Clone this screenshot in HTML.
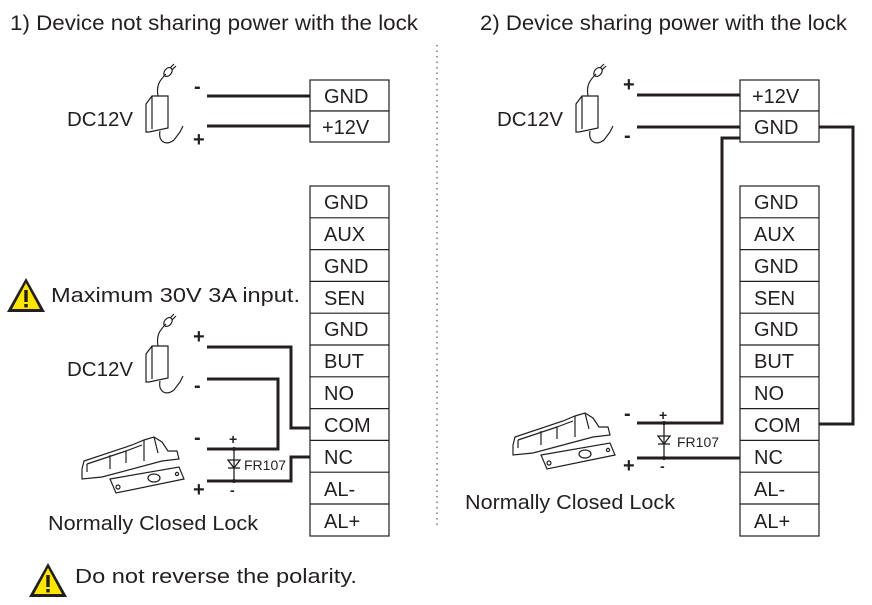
<!DOCTYPE html>
<html><head><meta charset="utf-8"><style>
body{margin:0;background:#fff;width:872px;height:605px;overflow:hidden}
svg{display:block}
text{font-family:"Liberation Sans","DejaVu Sans",sans-serif;fill:#231f20}
.t{font-size:21px}
.b{font-size:20px}
.w{stroke:#231f20;stroke-width:3;fill:none}
.bx{fill:#fff;stroke:#231f20;stroke-width:1.2}
.th{stroke:#231f20;stroke-width:1.2;fill:none}
</style></head><body>
<svg width="872" height="605" viewBox="0 0 872 605">
<defs>
<g id="ad">
 <path class="th" d="M0 0 L0 -28 L6 -36 L22 -36 L22 -4 L3 0 Z M6 -36 L6 -3 M0 0 L3 0"/>
 <path class="th" d="M12 -36 C10 -47 14 -52 20 -58"/>
 <ellipse cx="22" cy="-60" rx="3.5" ry="5" transform="rotate(40 22 -60)" class="th"/>
 <path class="th" d="M24 -64 l4 -4 M26 -62 l4 -4"/>
 <path class="th" d="M14 -1 C12 10 20 14 28 8 L34 0 M34 0 l3 -6"/>
</g>
<g id="lk">
 <path class="th" d="M0 32 L2 24 L50 8 L62 3 L72 0 L80 5 L86 14 L95 14 L97 22 L80 24 L20 40 L0 42 Z"/>
 <path class="th" d="M5 27 L5 35 M5 27 L44 14 L44 26 M28 18 L28 32 M44 14 L60 8 M62 3 L62 24 M72 0 L76 16"/>
 <path class="th" d="M28 42 L97 30 L102 42 L34 56 Z"/>
 <circle cx="36" cy="50" r="2" class="th"/>
 <ellipse cx="72" cy="41" rx="6" ry="4" class="th"/>
 <circle cx="95" cy="37" r="1.6" class="th"/>
</g>
<g id="warn">
 <path d="M19 0 L38 34 L0 34 Z" fill="#231f20"/>
 <path d="M19 5 L33 31 L5 31 Z" fill="#ffe600"/>
 <rect x="17.3" y="12" width="3.4" height="12" fill="#231f20"/>
 <rect x="17.3" y="26" width="3.4" height="3.4" fill="#231f20"/>
</g>
</defs>

<text x="10" y="30" class="t" textLength="408" lengthAdjust="spacingAndGlyphs">1) Device not sharing power with the lock</text>
<text x="480" y="30" class="t" textLength="367" lengthAdjust="spacingAndGlyphs">2) Device sharing power with the lock</text>
<line x1="437" y1="45" x2="437" y2="527" stroke="#555" stroke-width="1.2" stroke-dasharray="1.5 4"/>

<!-- LEFT top -->
<text x="67" y="126" class="b" textLength="66" lengthAdjust="spacingAndGlyphs">DC12V</text>
<use href="#ad" x="146" y="132"/>
<text x="194" y="93" class="b" font-weight="bold">-</text>
<text x="193" y="146" class="b" font-weight="bold" font-size="17">+</text>
<line class="w" x1="207" y1="96" x2="310" y2="96"/>
<line class="w" x1="207" y1="126" x2="310" y2="126"/>
<g>
<rect class="bx" x="310" y="80" width="79" height="31"/><rect class="bx" x="310" y="111" width="79" height="31"/>
<text x="324" y="103" class="b">GND</text><text x="322" y="134" class="b">+12V</text>
</g>

<!-- LEFT terminal block -->
<g id="blk">
<rect class="bx" x="310" y="186" width="79" height="350"/>
<path class="th" d="M310 217.8H389M310 249.6H389M310 281.4H389M310 313.2H389M310 345H389M310 376.8H389M310 408.6H389M310 440.4H389M310 472.2H389M310 504H389"/>
<text x="324" y="209" class="b">GND</text>
<text x="324" y="241" class="b">AUX</text>
<text x="324" y="273" class="b">GND</text>
<text x="324" y="305" class="b">SEN</text>
<text x="324" y="336" class="b">GND</text>
<text x="324" y="368" class="b">BUT</text>
<text x="324" y="400" class="b">NO</text>
<text x="324" y="432" class="b">COM</text>
<text x="324" y="464" class="b">NC</text>
<text x="324" y="496" class="b">AL-</text>
<text x="324" y="528" class="b">AL+</text>
</g>

<use href="#warn" x="7" y="278"/>
<text x="51" y="302" class="b" textLength="249" lengthAdjust="spacingAndGlyphs">Maximum 30V 3A input.</text>

<text x="67" y="376" class="b" textLength="66" lengthAdjust="spacingAndGlyphs">DC12V</text>
<use href="#ad" x="146" y="382"/>
<text x="193" y="343" class="b" font-weight="bold" font-size="17">+</text>
<text x="194" y="392" class="b" font-weight="bold">-</text>
<path class="w" d="M207 347H291V428H310"/>
<path class="w" d="M207 379H278V449H207"/>
<path class="w" d="M207 481H291V457H310"/>
<text x="194" y="444" class="b" font-weight="bold">-</text>
<text x="193" y="496" class="b" font-weight="bold" font-size="17">+</text>
<text x="229" y="444" font-size="14" font-weight="bold">+</text>
<text x="230" y="495" font-size="14" font-weight="bold">-</text>
<line x1="234" y1="449" x2="234" y2="481" stroke="#231f20" stroke-width="1.3"/>
<path d="M228 460H240L234 468Z" fill="none" stroke="#231f20" stroke-width="1.3"/>
<line x1="228" y1="468" x2="240" y2="468" stroke="#231f20" stroke-width="1.3"/>
<circle cx="234" cy="449" r="2" fill="#231f20"/><circle cx="234" cy="481" r="2" fill="#231f20"/>
<text x="244" y="470" font-size="14">FR107</text>
<use href="#lk" x="82" y="437"/>
<text x="48" y="530" class="b" textLength="210" lengthAdjust="spacingAndGlyphs">Normally Closed Lock</text>

<use href="#warn" x="29" y="563"/>
<text x="75" y="583" class="b" textLength="282" lengthAdjust="spacingAndGlyphs">Do not reverse the polarity.</text>

<!-- RIGHT -->
<text x="497" y="126" class="b" textLength="66" lengthAdjust="spacingAndGlyphs">DC12V</text>
<use href="#ad" x="576" y="132"/>
<text x="623" y="91" class="b" font-weight="bold" font-size="17">+</text>
<text x="624" y="142" class="b" font-weight="bold">-</text>
<line class="w" x1="637" y1="95" x2="740" y2="95"/>
<line class="w" x1="637" y1="127" x2="740" y2="127"/>
<rect class="bx" x="740" y="80" width="79" height="31"/><rect class="bx" x="740" y="111" width="79" height="31"/>
<text x="752" y="103" class="b">+12V</text><text x="754" y="134" class="b">GND</text>
<path class="w" d="M819 127H853V424H819"/>
<path class="w" d="M740 138H722V423H637"/>
<path class="w" d="M637 458H740"/>
<use href="#blk" x="430" y="0"/>
<text x="624" y="420" class="b" font-weight="bold">-</text>
<text x="623" y="472" class="b" font-weight="bold" font-size="17">+</text>
<text x="659" y="420" font-size="14" font-weight="bold">+</text>
<text x="660" y="471" font-size="14" font-weight="bold">-</text>
<line x1="664" y1="423" x2="664" y2="458" stroke="#231f20" stroke-width="1.3"/>
<path d="M658 436H670L664 444Z" fill="none" stroke="#231f20" stroke-width="1.3"/>
<line x1="658" y1="444" x2="670" y2="444" stroke="#231f20" stroke-width="1.3"/>
<circle cx="664" cy="423" r="2" fill="#231f20"/><circle cx="664" cy="458" r="2" fill="#231f20"/>
<text x="677" y="447" font-size="14">FR107</text>
<use href="#lk" x="513" y="413"/>
<text x="465" y="509" class="b" textLength="210" lengthAdjust="spacingAndGlyphs">Normally Closed Lock</text>
</svg>
</body></html>
